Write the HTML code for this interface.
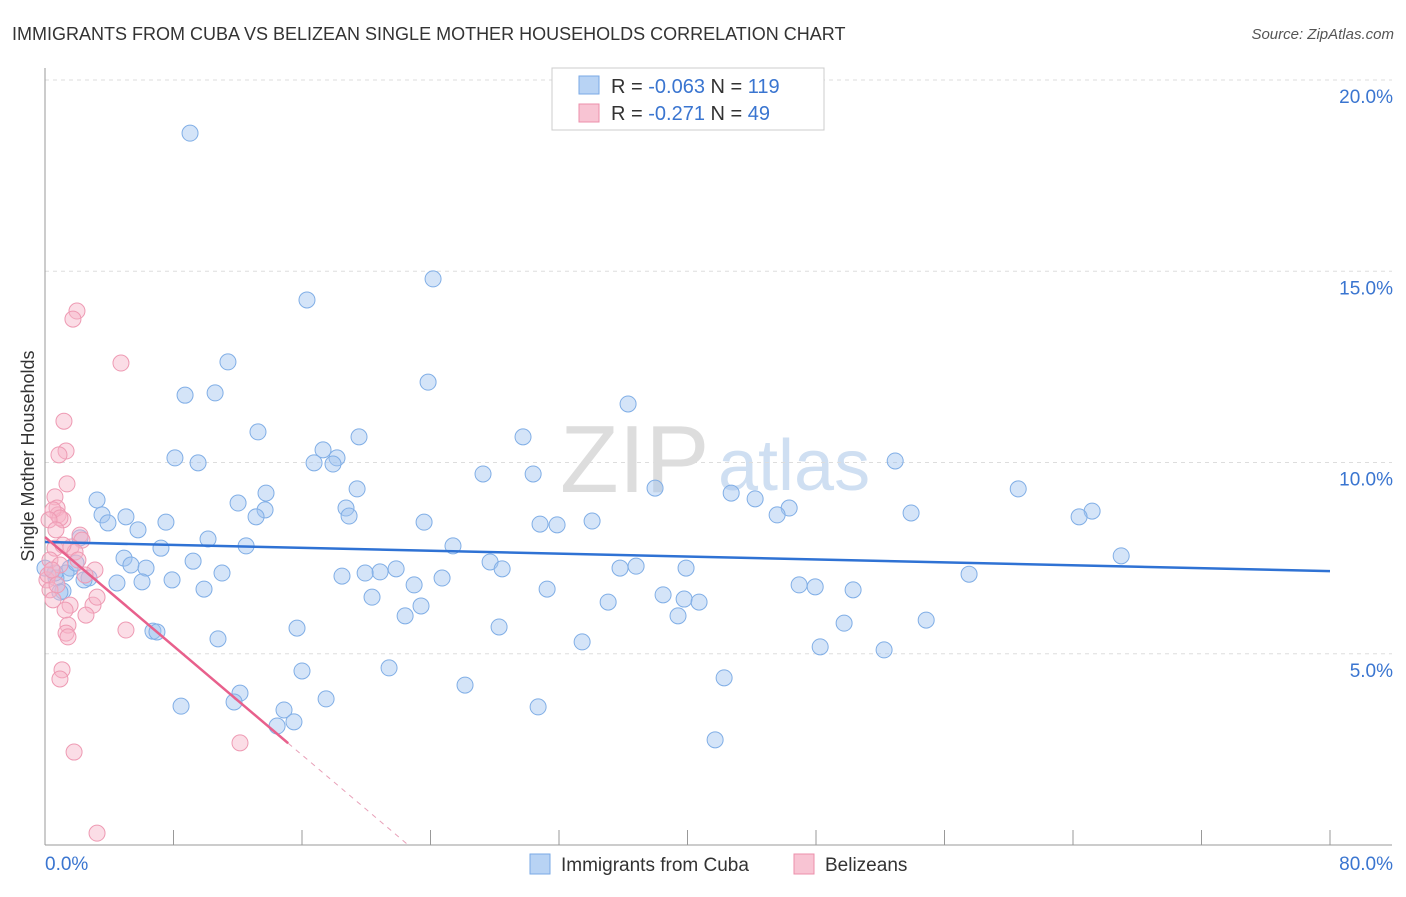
<!DOCTYPE html>
<html><head><meta charset="utf-8"><style>
body{margin:0;background:#fff;font-family:"Liberation Sans",sans-serif;}
svg text{font-family:"Liberation Sans",sans-serif;}
</style></head><body>
<svg id="chart" width="1406" height="892" xmlns="http://www.w3.org/2000/svg">
<text x="12" y="40" font-size="18" fill="#333">IMMIGRANTS FROM CUBA VS BELIZEAN SINGLE MOTHER HOUSEHOLDS CORRELATION CHART</text>
<text x="1394" y="39" font-size="15" fill="#555" font-style="italic" text-anchor="end">Source: ZipAtlas.com</text>
<text x="34" y="456" font-size="18" fill="#333" text-anchor="middle" transform="rotate(-90 34 456)">Single Mother Households</text>
<text x="560" y="492" font-size="96" fill="#ddd" font-family="Liberation Serif">ZIP</text>
<text x="718" y="490" font-size="72" fill="#cfdff2">atlas</text>
<g id="grid"></g><g id="marks"></g>
<g>
<rect x="552" y="68" width="272" height="62" fill="#fff" stroke="#ccc"/>
<rect x="579" y="76" width="20" height="18" fill="#b8d3f4" stroke="#7aaae6"/>
<rect x="579" y="104" width="20" height="18" fill="#f8c4d3" stroke="#ec8fab"/>
<text x="611" y="93" font-size="20" fill="#333">R = <tspan fill="#3a75d0">-0.063</tspan>   N = <tspan fill="#3a75d0">119</tspan></text>
<text x="611" y="120" font-size="20" fill="#333">R =  <tspan fill="#3a75d0">-0.271</tspan>   N =  <tspan fill="#3a75d0">49</tspan></text>
</g>
<g>
<rect x="530" y="854" width="20" height="20" fill="#b8d3f4" stroke="#7aaae6"/>
<text x="561" y="871" font-size="19" fill="#333">Immigrants from Cuba</text>
<rect x="794" y="854" width="20" height="20" fill="#f8c4d3" stroke="#ec8fab"/>
<text x="825" y="871" font-size="19" fill="#333">Belizeans</text>
</g>
</svg>
<script>
const yTicks=[5,10,15,20];
const xTickLabels=["0.0%","80.0%"];
const blueX=[9.03,24.16,16.31,11.39,23.85,8.72,10.59,36.30,13.26,29.76,19.55,17.31,18.18,8.09,9.53,16.75,17.93,52.93,27.27,30.39,37.98,60.59,19.43,42.72,44.21,13.76,3.24,12.02,18.74,13.70,46.33,53.92,65.19,64.38,45.58,18.93,3.55,5.04,13.14,23.60,34.06,30.82,31.88,7.53,3.92,5.79,10.15,2.18,25.40,7.22,12.52,67.00,4.92,9.22,27.71,5.35,6.29,11.02,28.46,1.56,1.31,21.86,20.86,19.93,18.49,35.80,36.80,39.91,57.53,24.72,22.98,7.91,4.48,6.04,2.74,46.95,47.95,50.31,31.26,9.90,1.12,20.36,38.48,39.79,40.72,35.06,23.41,22.42,39.41,54.86,49.75,28.27,15.69,6.72,6.97,10.77,33.44,48.26,52.24,16.00,21.42,42.28,26.15,12.14,17.50,8.47,30.70,14.88,11.77,15.50,14.45,41.72,0.68,0.62,0.93,1.93,2.43,0.0];
const blueY=[18.61,14.80,14.25,12.63,12.10,11.76,11.82,11.53,10.80,10.67,10.67,10.33,10.12,10.12,9.99,9.99,9.96,10.04,9.70,9.70,9.33,9.31,9.31,9.20,9.05,9.20,9.02,8.94,8.81,8.76,8.81,8.68,8.73,8.58,8.63,8.60,8.63,8.58,8.58,8.44,8.47,8.39,8.37,8.44,8.42,8.24,8.00,8.03,7.82,7.76,7.82,7.56,7.50,7.42,7.40,7.32,7.24,7.11,7.22,7.24,7.11,7.22,7.14,7.11,7.03,7.24,7.29,7.24,7.08,6.98,6.80,6.93,6.85,6.88,6.98,6.80,6.75,6.67,6.69,6.69,6.64,6.48,6.54,6.43,6.35,6.35,6.25,5.99,5.99,5.88,5.80,5.70,5.67,5.59,5.57,5.39,5.31,5.18,5.10,4.55,4.63,4.37,4.18,3.97,3.82,3.63,3.61,3.53,3.74,3.22,3.11,2.75,6.98,7.11,6.61,7.37,6.93,7.24];
const pinkX=[1.99,1.74,4.73,1.18,1.31,0.87,1.37,0.62,0.75,0.81,1.12,0.50,0.93,2.18,2.30,1.62,1.87,0.62,0.31,0.93,3.11,0.12,0.31,0.50,1.56,2.99,1.25,2.55,3.24,1.43,1.31,1.43,5.04,1.06,0.93,1.81,12.14,3.24,0.19,0.44,2.05,2.49,0.75,1.12,0.25,0.68];
const pinkY=[13.96,13.75,12.60,11.08,10.30,10.20,9.44,9.10,8.81,8.63,8.50,8.76,8.55,8.10,7.97,7.79,7.66,7.76,7.45,7.32,7.19,6.93,6.67,6.41,6.27,6.27,6.14,6.01,6.48,5.75,5.54,5.44,5.62,4.58,4.34,2.43,2.67,0.31,7.06,7.19,7.45,7.06,6.80,7.84,8.50,8.24];
const blueTrend=[7.92,-0.0095];
const pinkTrend=[8.05,-0.356];
const sx=v=>45+v*16.0625, sy=v=>845-v*38.25;
const NS="http://www.w3.org/2000/svg";
function mk(tag,attrs,parent){const e=document.createElementNS(NS,tag);for(const k in attrs)e.setAttribute(k,attrs[k]);parent.appendChild(e);return e;}
const grid=document.getElementById('grid'),marks=document.getElementById('marks');
yTicks.forEach(t=>{
 const l=mk('line',{x1:45,x2:1392,y1:sy(t),y2:sy(t),stroke:'#ddd','stroke-dasharray':'4,4'},grid);
 
 
 const tx=mk('text',{x:1393,y:sy(t)+23,'font-size':19,fill:'#3a75d0','text-anchor':'end'},grid);
 tx.textContent=t.toFixed(1)+'%';
 
 
});
const ax=mk('line',{x1:45,x2:45,y1:68,y2:845,stroke:'#999'},grid);


const bx=mk('line',{x1:45,x2:1392,y1:845,y2:845,stroke:'#999'},grid);


for(let i=0;i<=10;i++){const t=mk('line',{x1:sx(i*8),x2:sx(i*8),y1:830,y2:845,stroke:'#999'},grid);
 
 }
[[0,'start',45],[80,'end',1393]].forEach((d,i)=>{const t=mk('text',{x:d[2],y:870,'font-size':19,fill:'#3a75d0','text-anchor':d[1]},grid);t.textContent=xTickLabels[i];
 
 });
blueX.forEach((x,i)=>{const c=mk('circle',{cx:sx(x),cy:sy(blueY[i]),r:8,fill:'rgba(160,196,240,0.45)',stroke:'#80aee6','stroke-width':1},marks);
 
 });
pinkX.forEach((x,i)=>{const c=mk('circle',{cx:sx(x),cy:sy(pinkY[i]),r:8,fill:'rgba(246,180,200,0.45)',stroke:'#ee9ab3','stroke-width':1},marks);
 
 });
const bl=mk('line',{x1:sx(0),y1:sy(blueTrend[0]),x2:sx(80),y2:sy(blueTrend[0]+80*blueTrend[1]),stroke:'#2f72d4','stroke-width':2.5},marks);


const pMax=Math.max(...pinkX), pZero=-pinkTrend[0]/pinkTrend[1];
const pl=mk('line',{x1:sx(0),y1:sy(pinkTrend[0]),x2:sx(pMax+3),y2:sy(pinkTrend[0]+(pMax+3)*pinkTrend[1]),stroke:'#e8608c','stroke-width':2.5},marks);


const pd=mk('line',{x1:sx(pMax+3),y1:sy(pinkTrend[0]+(pMax+3)*pinkTrend[1]),x2:sx(pZero),y2:sy(0),stroke:'#e8a0b8','stroke-width':1,'stroke-dasharray':'5,5'},marks);


</script>
</body></html>
